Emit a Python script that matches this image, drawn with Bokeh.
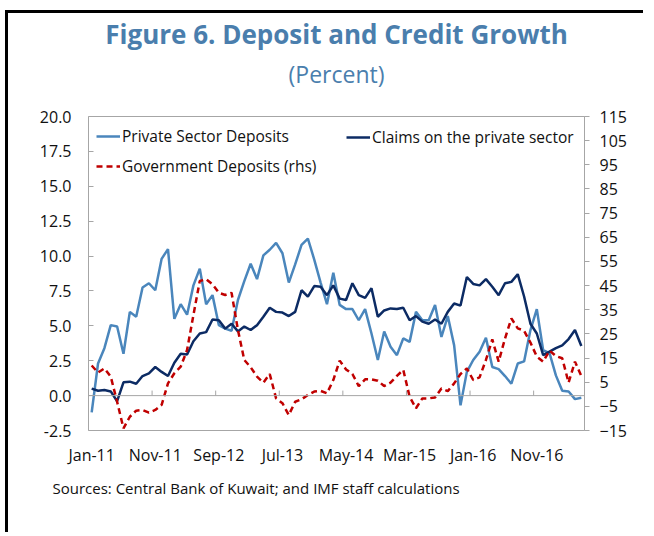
from bokeh.plotting import figure
from bokeh.models import (Range1d, LinearAxis, FixedTicker, Span, Title, Legend, LegendItem,
                          NumeralTickFormatter, ColumnDataSource)
from bokeh.embed import file_html
from bokeh.resources import INLINE

# ---------------- data (monthly, Jan-11 .. Jun-17) ----------------
tick_labels = ["Jan-11", "Nov-11", "Sep-12", "Jul-13", "May-14", "Mar-15", "Jan-16", "Nov-16"]

private_deposits = [
    -1.2, 2.3, 3.4, 5.05, 4.95, 3.0, 6.0, 5.65, 7.75, 8.05,
    7.55, 9.8, 10.5, 5.5, 6.55, 5.8, 7.9, 9.1, 6.55, 7.2,
    5.05, 4.8, 4.65, 6.85, 8.2, 9.45, 8.35, 10.05, 10.45, 10.95,
    10.2, 8.1, 9.4, 10.8, 11.25, 9.75, 8.1, 6.55, 8.8, 6.5,
    6.2, 6.2, 5.4, 6.2, 4.45, 2.55, 4.6, 3.5, 2.9, 4.1,
    3.85, 6.0, 5.4, 5.4, 6.5, 4.2, 5.7, 3.6, -0.7, 1.7,
    2.55, 3.15, 4.15, 2.05, 1.9, 1.4, 0.85, 2.3, 2.45, 4.7,
    6.2, 3.25, 3.05, 1.45, 0.35, 0.3, -0.25, -0.15,
]

claims_private = [
    0.5, 0.35, 0.4, 0.3, -0.4, 0.95, 1.0, 0.85, 1.4, 1.6,
    2.05, 1.7, 1.4, 2.35, 3.0, 2.95, 3.9, 4.45, 4.55, 5.45,
    5.4, 4.8, 5.15, 4.6, 4.95, 4.7, 5.05, 5.65, 6.3, 6.0,
    5.95, 5.7, 6.0, 7.55, 7.1, 7.85, 7.8, 7.2, 7.9, 6.95,
    6.85, 8.05, 7.2, 7.0, 7.7, 5.65, 6.1, 6.25, 6.2, 6.3,
    5.4, 5.7, 5.3, 5.15, 5.45, 5.15, 6.0, 6.6, 6.45, 8.5,
    8.0, 7.9, 8.35, 7.8, 7.2, 8.05, 8.15, 8.7, 7.1, 5.15,
    4.45, 2.9, 3.15, 3.4, 3.6, 4.05, 4.7, 3.55,
]

government_deposits = [
    11.9, 9.0, 10.7, 7.3, -3.1, -14.1, -9.3, -6.8, -6.5, -7.6,
    -6.5, -4.4, 4.5, 8.7, 11.4, 18.3, 32.8, 46.9, 47.6, 45.5,
    42.0, 41.1, 42.0, 26.6, 14.2, 11.2, 7.3, 4.8, 8.4, -1.7,
    -3.7, -8.6, -3.1, -2.1, -0.3, 1.1, 1.4, 0.4, 5.9, 13.9,
    10.3, 8.4, 3.4, 6.2, 6.2, 5.6, 3.4, 4.8, 7.6, 10.1,
    -1.0, -5.8, -1.7, -1.7, -1.3, 2.4, 1.3, 4.5, 8.4, 10.7,
    5.9, 7.0, 14.2, 22.7, 13.5, 23.1, 31.4, 27.3, 26.3, 21.4,
    15.6, 13.5, 18.1, 15.8, 14.9, 4.8, 13.5, 7.6,
]

left_ticks = [-2.5, 0, 2.5, 5, 7.5, 10, 12.5, 15, 17.5, 20]
right_ticks = [-15, -5, 5, 15, 25, 35, 45, 55, 65, 75, 85, 95, 105, 115]

# ---------------- styling ----------------
FONT = "Open Sans"
TXT = "#111111"
GRAY = "#A6A6A6"
C_PVT = "#4A86BC"
C_CLAIMS = "#0C2B64"
C_GOV = "#C00000"
C_TITLE = "#4A7EAD"

n = len(private_deposits)
xs = list(range(n))
src = ColumnDataSource(dict(x=xs, pvt=private_deposits, claims=claims_private, gov=government_deposits))

p = figure(width=638, height=522, x_range=Range1d(-0.5, n - 0.5), y_range=Range1d(left_ticks[0], left_ticks[-1]),
           output_backend="svg", toolbar_location=None,
           min_border_left=80, min_border_right=62, min_border_top=103, min_border_bottom=105)
p.styles = {"border-left": "3px solid black", "border-top": "3px solid black",
            "margin-left": "5px", "margin-top": "10px"}
p.extra_y_ranges = {"rhs": Range1d(right_ticks[0], right_ticks[-1])}
p.xgrid.visible = False
p.ygrid.visible = False
p.outline_line_color = GRAY
p.outline_line_width = 1
p.background_fill_color = "white"
p.border_fill_color = "white"

# x axis (labels only, at bottom)
label_pos = [i for i in xs if i % 10 == 0]
xa = p.xaxis[0]
xa.ticker = FixedTicker(ticks=label_pos)
xa.major_label_overrides = {pos: lab for pos, lab in zip(label_pos, tick_labels)}
xa.axis_line_color = None
xa.major_tick_in = 0
xa.major_tick_out = 0
xa.minor_tick_line_color = None
xa.major_label_standoff = 13
xa.major_label_text_font = FONT
xa.major_label_text_font_size = "16px"
xa.major_label_text_color = TXT

# left axis
ya = p.yaxis[0]
ya.ticker = FixedTicker(ticks=left_ticks)
ya.formatter = NumeralTickFormatter(format="0.0")
ya.axis_line_color = None
ya.major_tick_in = 5
ya.major_tick_out = 0
ya.major_tick_line_color = GRAY
ya.minor_tick_line_color = None
ya.major_label_standoff = 17
ya.major_label_text_font = FONT
ya.major_label_text_font_size = "16px"
ya.major_label_text_color = TXT

# right axis
ra = LinearAxis(y_range_name="rhs", ticker=FixedTicker(ticks=right_ticks))
ra.axis_line_color = GRAY
ra.major_tick_in = 0
ra.major_tick_out = 5
ra.major_tick_line_color = GRAY
ra.minor_tick_line_color = None
ra.major_label_standoff = 10
ra.major_label_text_font = FONT
ra.major_label_text_font_size = "16px"
ra.major_label_text_color = TXT
p.add_layout(ra, "right")

# zero line acting as the category axis, with tick marks between category groups
p.add_layout(Span(location=0, dimension="width", line_color=GRAY, line_width=1))
bounds = [pos - 0.5 for pos in label_pos[1:]]
p.segment(x0=bounds, y0=[0] * len(bounds), x1=bounds, y1=[0.36] * len(bounds),
          line_color=GRAY, line_width=1)

r_pvt = p.line("x", "pvt", source=src, line_color=C_PVT, line_width=2.5)
r_claims = p.line("x", "claims", source=src, line_color=C_CLAIMS, line_width=2.5)
r_gov = p.line("x", "gov", source=src, y_range_name="rhs", line_color=C_GOV, line_width=2.5,
               line_dash="6 4")


def mk_legend(items, loc):
    lg = Legend(items=items, location=loc, padding=0, margin=0, spacing=8,
                glyph_width=24, glyph_height=20, label_height=20, label_standoff=2,
                background_fill_alpha=0, border_line_alpha=0,
                label_text_font=FONT, label_text_font_size="15.5px", label_text_color=TXT)
    return lg


p.add_layout(mk_legend([LegendItem(label="Private Sector Deposits", renderers=[r_pvt]),
                        LegendItem(label="Government Deposits (rhs)", renderers=[r_gov])], (8, 253)))
p.add_layout(mk_legend([LegendItem(label="Claims on the private sector", renderers=[r_claims])], (258, 282)))

# blank spacer between frame and subtitle
p.add_layout(Title(text=" ", text_font=FONT, text_font_size="1px", standoff=20), "above")

# titles (first added sits nearest the frame) and source note
p.add_layout(Title(text="(Percent)", text_font=FONT, text_font_size="23px", text_font_style="normal",
                   text_color=C_TITLE, align="center", standoff=8), "above")
p.add_layout(Title(text="Figure 6. Deposit and Credit Growth", text_font=FONT, text_font_size="26px",
                   text_font_style="bold", text_color=C_TITLE, align="center", offset=2, standoff=0), "above")
p.add_layout(Title(text="Sources: Central Bank of Kuwait; and IMF staff calculations", text_font=FONT,
                   text_font_size="15px", text_font_style="normal", text_color=TXT, align="left",
                   offset=-36, standoff=14), "below")

open("out.html", "w").write(file_html(p, INLINE))
